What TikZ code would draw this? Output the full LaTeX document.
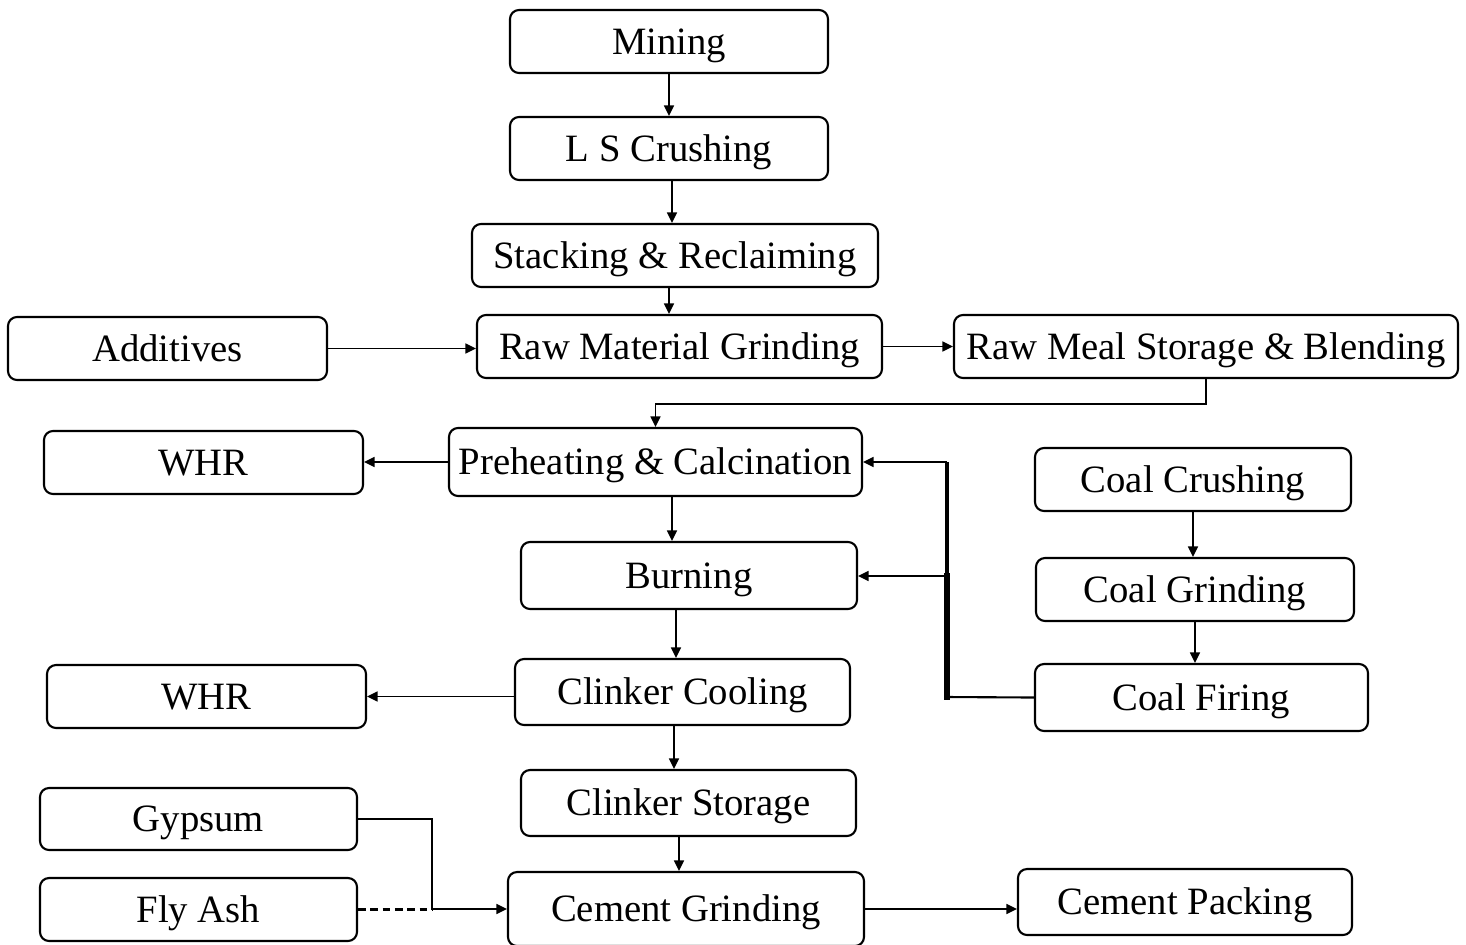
\documentclass[tikz,border=0pt]{standalone}
\usepackage{fontspec}
\setmainfont{Liberation Serif}
\usetikzlibrary{arrows.meta}
\newcommand\mybox[6]{\node[box, minimum width={(#4-#2)*0.01cm}, minimum height={(#5-#3)*0.01cm}] (#1) at ({(#2+#4)/2},{(#3+#5)/2}) {#6};}
\begin{document}
\begin{tikzpicture}[x=0.01cm,y=-0.01cm,
 box/.style={draw, rounded corners=0.09cm, line width=0.6pt, inner sep=0pt, text height=7.3pt, text depth=0pt, font=\fontsize{11}{13}\selectfont},
 arr/.style={line width=0.55pt, -{Triangle[length=3pt,width=2.8pt]}},
 ln/.style={line width=0.6pt},
]
\useasboundingbox (0,0) rectangle (1466,944);
\mybox{mining}{510}{10}{828}{73}{Mining}
\mybox{lscr}{510}{117}{828}{180}{L S Crushing}
\mybox{stack}{472}{224}{878}{287}{Stacking \& Reclaiming}
\mybox{add}{8}{317}{327}{380}{Additives}
\mybox{rmg}{477}{315}{882}{378}{Raw Material Grinding}
\mybox{rms}{954}{315}{1458}{378}{Raw Meal Storage \& Blending}
\mybox{whra}{44}{431}{363}{494}{WHR}
\mybox{pre}{449}{428}{862}{496}{Preheating \& Calcination}
\mybox{ccrush}{1035}{448}{1351}{511}{Coal Crushing}
\mybox{burn}{521}{542}{857}{609}{Burning}
\mybox{cgrd}{1036}{558}{1354}{621}{Coal Grinding}
\mybox{whrb}{47}{665}{366}{728}{WHR}
\mybox{cool}{515}{659}{850}{725}{Clinker Cooling}
\mybox{cfire}{1035}{664}{1368}{731}{Coal Firing}
\mybox{cstor}{521}{770}{856}{836}{Clinker Storage}
\mybox{gyp}{40}{788}{357}{850}{Gypsum}
\mybox{fly}{40}{878}{357}{941}{Fly Ash}
\mybox{cgrind}{508}{872}{864}{946}{Cement Grinding}
\mybox{cpack}{1018}{869}{1352}{935}{Cement Packing}
% x positions of some connectors
\coordinate (xa) at (672,0);
\coordinate (xb) at (669,0);
\coordinate (xc) at (676,0);
\coordinate (xd) at (674,0);
\coordinate (xe) at (679,0);
\coordinate (xg) at (432,0);
\coordinate (j1) at (947,576);
\coordinate (j2) at (947,697);
% connectors
\draw[arr] (mining.south) -- (lscr.north);
\draw[arr] (lscr.south -| xa) -- (stack.north -| xa);
\draw[arr] (stack.south -| xb) -- (rmg.north -| xb);
\draw[arr] (add.east) -- (add.east -| rmg.west);
\draw[arr] (rmg.east) -- (rmg.east -| rms.west);
\draw[arr] (rms.south) -- ++(0,25) -| (pre.north);
\draw[arr] (pre.west) -- (pre.west -| whra.east);
\draw[arr] (pre.south -| xa) -- (burn.north -| xa);
\draw[ln] (cfire.west) -- (j2);
\draw[line width=1.7pt, line cap=rect] (j2) -- (j1);
\draw[line width=1.1pt] (j1) -- (j1 |- pre.east);
\draw[arr] (j1 |- pre.east) -- (pre.east);
\draw[arr] (j1) -- (j1 -| burn.east);
\draw[arr] (burn.south -| xc) -- (cool.north -| xc);
\draw[arr] (cool.west |- whrb.east) -- (whrb.east);
\draw[arr] (cool.south -| xd) -- (cstor.north -| xd);
\draw[arr] (cstor.south -| xe) -- (cgrind.north -| xe);
\draw[arr] (gyp.east) -| (xg |- cgrind.west) -- (cgrind.west);
\draw[ln, dash pattern=on 2.2pt off 1.3pt] (fly.east) -- (fly.east -| xg);
\draw[arr] (cgrind.east) -- (cgrind.east -| cpack.west);
\draw[arr] (ccrush.south) -- (ccrush.south |- cgrd.north);
\draw[arr] (cgrd.south) -- (cgrd.south |- cfire.north);
\end{tikzpicture}
\end{document}
